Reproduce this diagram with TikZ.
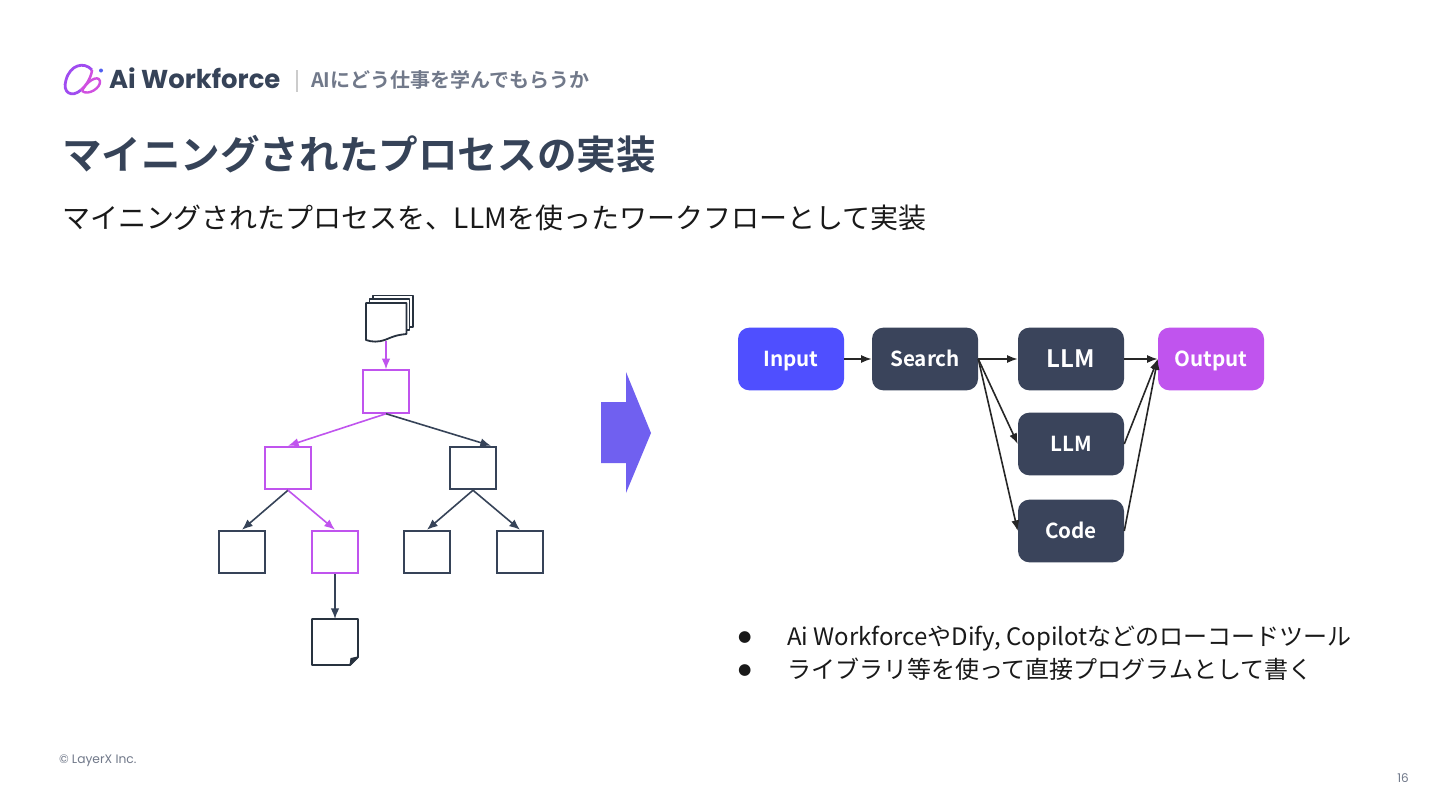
\documentclass[tikz,border=0pt]{standalone}
\usepackage{fontspec}
\setmainfont{Noto Sans CJK JP}
\newfontfamily\cjkbold{Noto Sans CJK JP Bold}
\newfontfamily\brandfont{Poppins}[BoldFont=Poppins Bold]
\newfontfamily\dejafont{DejaVu Sans}
\usetikzlibrary{arrows.meta}
\definecolor{slate}{HTML}{364358}
\definecolor{navy}{HTML}{3A445B}
\definecolor{purp}{HTML}{C054EE}
\definecolor{bluebox}{HTML}{4F4FFF}
\definecolor{arrowfill}{HTML}{7060F0}
\definecolor{greytext}{HTML}{71798A}
\definecolor{darkline}{HTML}{28323F}
\definecolor{logoA}{HTML}{A04CF0}
\definecolor{logoB}{HTML}{D050E0}
\definecolor{logoC}{HTML}{5060F0}
\tikzset{
  txt/.style={inner sep=0pt,outer sep=0pt,anchor=west},
  flow/.style={draw=none,rounded corners=8.5pt,minimum width=79.5pt,minimum height=47pt,inner sep=0pt,text=white,text height=14.5pt,text depth=3pt,font=\cjkbold\fontsize{15.5pt}{18pt}\selectfont},
  sq/.style={draw=slate,line width=1.35pt,fill=white,minimum width=34pt,minimum height=32pt,inner sep=0pt},
  sqp/.style={sq,draw=purp},
  tree/.style={draw=slate,line width=1.2pt,-{Latex[length=8pt,width=6.5pt]}},
  treep/.style={draw=purp,line width=1.2pt,-{Latex[length=8pt,width=6.5pt]}},
  fl/.style={draw=black!85,line width=1.2pt,-{Latex[length=8pt,width=6pt]}},
  doc/.style={draw=darkline,line width=1.35pt,fill=white,line join=round},
  bodytext/.style={inner sep=0pt,outer sep=0pt,anchor=base west,text=black!90,font=\fontsize{18pt}{22pt}\selectfont},
  bullet/.style={inner sep=0pt,outer sep=0pt,anchor=base west,text=black!90,font=\dejafont\fontsize{11.5pt}{14pt}\selectfont}
}
\begin{document}
\begin{tikzpicture}[x=0.75pt,y=-0.75pt]
\useasboundingbox (0,0) rectangle (1440,810);
\fill[white] (0,0) rectangle (1440,810);
% logo
\draw[line width=2.1pt,logoA] (92,70) .. controls (84,61) and (70,65) .. (66,80) .. controls (62,93) and (72,98) .. (81,90);
\draw[line width=1.9pt,logoB] (81,90) .. controls (90,82) and (92,72) .. (92,70);
\draw[line width=1.8pt,logoB] (82,91) .. controls (86,82) and (98,74) .. (100,81) .. controls (101,88) and (88,96) .. (82,91);
\fill[logoC] (101,70.5) circle (2);
\node[txt,text=slate,font=\brandfont\fontsize{19.4pt}{22pt}\selectfont] (brand) at (109,78) {\textbf{Ai Workforce}};
\draw[line width=1.3pt,black!20] (297,70) -- (297,92);
\node[txt,text=greytext,font=\cjkbold\fontsize{15pt}{18pt}\selectfont] (head) at (311,79.5) {AIにどう仕事を学んでもらうか};
\node[txt,text=slate,font=\cjkbold\fontsize{29.7pt}{34pt}\selectfont] (title) at (62,154) {マイニングされたプロセスの実装};
\node[txt,text=black!90,font=\fontsize{21pt}{25pt}\selectfont] (sub) at (62,217.5) {マイニングされたプロセスを、LLMを使ったワークフローとして実装};
% stacked documents
\path[doc] (373,295.5) -- (413,295.5) -- (413,327) -- (373,327) -- cycle;
\path[doc] (369.5,299) -- (409.5,299) -- (409.5,330) -- (369.5,330) -- cycle;
\path[doc] (366,303) -- (406.5,303) -- (406.5,334) .. controls (396,335) and (392,337) .. (386,339.5) .. controls (378,342.5) and (372,342) .. (366,340) -- cycle;
% tree
\node[sqp] (a) at (386,391.5) {};
\node[sqp] (b) at (288,468) {};
\node[sq] (c) at (473,468) {};
\node[sq] (d) at (242,552) {};
\node[sqp] (e) at (335,552) {};
\node[sq] (f) at (427,552) {};
\node[sq] (g) at (520,552) {};
\coordinate (docb) at (386,341);
\path[treep] (docb) -- (a.north);
\path[treep] (a.south) -- (b.north);
\path[tree] (a.south) -- ([xshift=13.5pt]c.north);
\path[tree] (b.south) -- (d.north);
\path[treep] (b.south) -- (e.north);
\path[tree] (c.south) -- (f.north);
\path[tree] (c.south) -- (g.north);
% output doc
\path[doc] (312,619) -- (358,619) -- (358,657) -- (350,665) -- (312,665) -- cycle;
\path[doc,fill=darkline,line width=0.8pt] (358,657) -- (351,658.5) -- (350,665) -- cycle;
\coordinate (outdoc) at (335,619);
\path[tree] (e.south) -- (outdoc);
% big arrow
\fill[arrowfill] (601,402) -- (626,402) -- (626,372) -- (651,433) -- (626,493) -- (626,463) -- (601,463) -- cycle;
% flow
\node[flow,fill=bluebox] (input) at (791,359) {Input};
\node[flow,fill=navy] (search) at (925,359) {Search};
\node[flow,fill=navy,font=\cjkbold\fontsize{18pt}{20pt}\selectfont,text height=16pt,text depth=3.3pt] (llm1) at (1071,359) {LLM};
\node[flow,fill=navy] (llm2) at (1071,444) {LLM};
\node[flow,fill=navy] (code) at (1071,531) {Code};
\node[flow,fill=purp] (output) at (1211,359) {Output};
\path[fl] (input.east) -- (search.west);
\path[fl] (search.east) -- (llm1.west);
\path[fl] (search.east) -- (llm2.west);
\path[fl] (search.east) -- (code.west);
\path[fl] (llm1.east) -- (output.west);
\path[fl] (llm2.east) -- (output.west);
\path[fl] (code.east) -- (output.west);
% bullets
\node[bullet] (b1) at (738,641.5) {●};
\node[bodytext] (t1) at (787,645) {Ai WorkforceやDify, Copilotなどのローコードツール};
\node[bullet] (b2) at (738,674.5) {●};
\node[bodytext] (t2) at (787,678.5) {ライブラリ等を使って直接プログラムとして書く};
\node[txt,text=greytext,font=\brandfont\fontsize{9.2pt}{11pt}\selectfont] (copy) at (59,761) {© LayerX Inc.};
\node[inner sep=0pt,text=greytext,font=\brandfont\fontsize{9pt}{11pt}\selectfont] (page) at (1403,778) {16};
\end{tikzpicture}
\end{document}
